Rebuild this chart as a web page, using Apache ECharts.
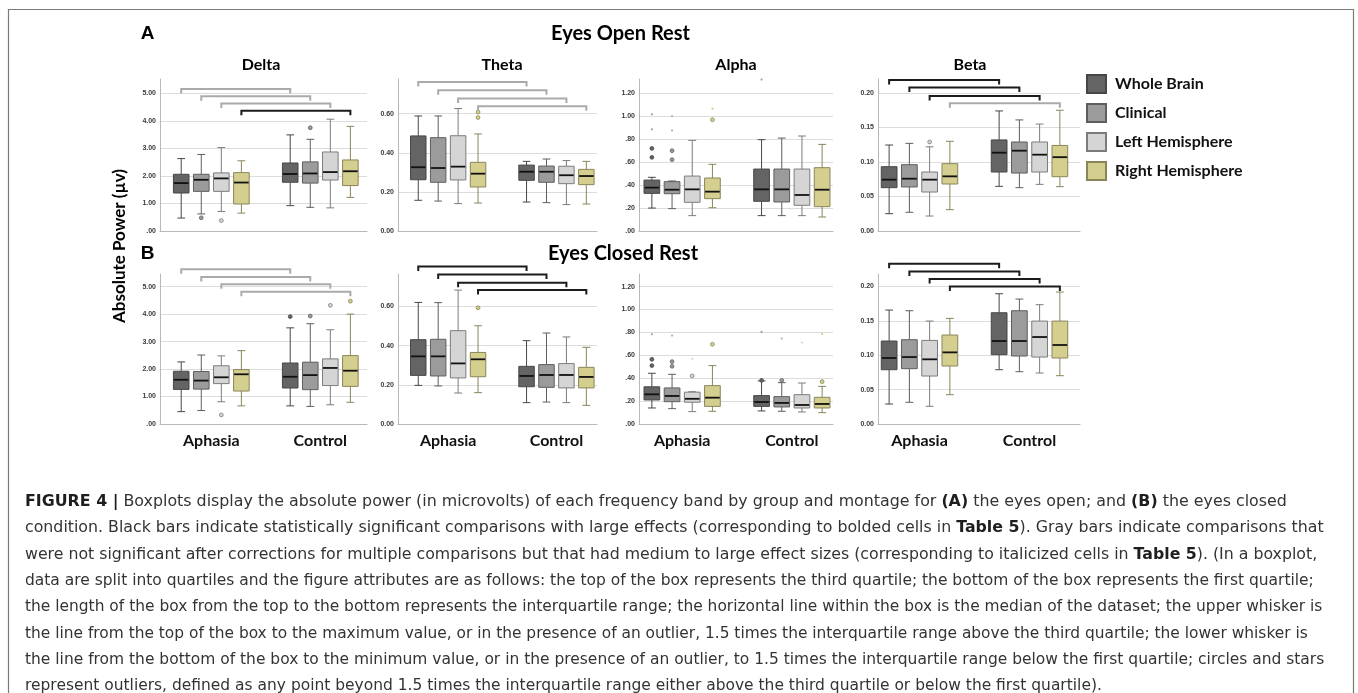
<!DOCTYPE html>
<html><head><meta charset="utf-8">
<script src="https://cdn.jsdelivr.net/npm/echarts@6/dist/echarts.min.js"></script>
<style>html,body{margin:0;padding:0;background:#fff}#c{width:1358px;height:693px}</style>
</head><body><div id="c"></div><script>
// ---------- data ----------
const groups = ['Aphasia', 'Control'];
const montages = ['Whole Brain', 'Clinical', 'Left Hemisphere', 'Right Hemisphere'];
const bands = ['Delta', 'Theta', 'Alpha', 'Beta'];
const conditions = ['Eyes Open Rest', 'Eyes Closed Rest'];

// [min, Q1, median, Q3, max] for each montage
const openDeltaAphasia = [[0.47,1.38,1.74,2.06,2.63],[0.62,1.44,1.86,2.06,2.78],[0.71,1.44,1.91,2.11,3.03],[0.65,0.98,1.76,2.12,2.55]];
const openDeltaControl = [[0.92,1.77,2.07,2.47,3.49],[0.86,1.74,2.09,2.51,3.33],[0.84,1.85,2.14,2.87,4.06],[1.22,1.65,2.17,2.58,3.80]];
const openThetaAphasia = [[0.157,0.262,0.326,0.486,0.588],[0.153,0.249,0.322,0.477,0.588],[0.140,0.261,0.329,0.487,0.626],[0.143,0.225,0.293,0.351,0.496]];
const openThetaControl = [[0.148,0.259,0.303,0.337,0.356],[0.145,0.249,0.303,0.332,0.368],[0.135,0.242,0.285,0.331,0.360],[0.138,0.237,0.281,0.315,0.356]];
const openAlphaAphasia = [[0.200,0.328,0.378,0.444,0.468],[0.195,0.325,0.360,0.430,0.436],[0.134,0.250,0.363,0.479,0.790],[0.203,0.282,0.343,0.462,0.581]];
const openAlphaControl = [[0.134,0.259,0.363,0.540,0.796],[0.134,0.253,0.363,0.540,0.810],[0.134,0.224,0.314,0.540,0.828],[0.122,0.212,0.360,0.552,0.755]];
const openBetaAphasia = [[0.0251,0.0628,0.0744,0.0932,0.1246],[0.0271,0.0638,0.0758,0.0961,0.127],[0.0217,0.0565,0.0744,0.0855,0.122],[0.0309,0.0681,0.0792,0.0976,0.130]];
const openBetaControl = [[0.0647,0.0855,0.1135,0.132,0.174],[0.0628,0.084,0.1164,0.129,0.161],[0.0676,0.0855,0.1106,0.129,0.155],[0.0643,0.0787,0.107,0.124,0.175]];
const closedDeltaAphasia = [[0.45,1.26,1.61,1.92,2.26],[0.49,1.27,1.58,1.91,2.51],[0.81,1.47,1.70,2.12,2.48],[0.66,1.20,1.81,1.98,2.67]];
const closedDeltaControl = [[0.66,1.31,1.72,2.22,3.50],[0.64,1.25,1.78,2.25,3.65],[0.70,1.40,2.04,2.37,3.43],[0.79,1.37,1.94,2.49,4.00]];
const closedThetaAphasia = [[0.197,0.248,0.345,0.430,0.620],[0.194,0.245,0.345,0.432,0.619],[0.158,0.235,0.309,0.476,0.683],[0.160,0.241,0.330,0.365,0.501]];
const closedThetaControl = [[0.109,0.190,0.245,0.294,0.425],[0.112,0.187,0.250,0.303,0.464],[0.109,0.184,0.250,0.308,0.444],[0.095,0.184,0.240,0.289,0.391]];
const closedAlphaAphasia = [[0.140,0.210,0.259,0.325,0.443],[0.134,0.195,0.245,0.315,0.434],[0.108,0.190,0.220,0.278,0.282],[0.111,0.154,0.230,0.335,0.510]];
const closedAlphaControl = [[0.114,0.154,0.192,0.248,0.376],[0.111,0.149,0.184,0.239,0.361],[0.105,0.140,0.166,0.256,0.358],[0.099,0.140,0.175,0.233,0.329]];
const closedBetaAphasia = [[0.029,0.0789,0.0959,0.1206,0.1656],[0.0315,0.0804,0.0973,0.1225,0.1646],[0.0257,0.0697,0.094,0.1215,0.1496],[0.0426,0.0843,0.1041,0.1293,0.1535]];
const closedBetaControl = [[0.0789,0.1007,0.1206,0.1617,0.1893],[0.076,0.0988,0.1206,0.1646,0.1816],[0.0741,0.0973,0.1264,0.1496,0.1734],[0.0702,0.0959,0.1148,0.1496,0.1918]];

// outliers: [group, montage, value, kind(0 circle, 1 star)]
const openDeltaOutliers = [[0,1,0.48,0],[0,2,0.38,0],[1,1,3.75,0]];
const openThetaOutliers = [[0,3,0.608,0],[0,3,0.580,0]];
const openAlphaOutliers = [[0,0,0.642,0],[0,0,0.720,0],[0,0,0.886,1],[0,0,1.017,1],[0,1,0.622,0],[0,1,0.700,0],[0,1,0.877,1],[0,1,1.002,1],[0,3,0.970,0],[0,3,1.066,1],[1,0,1.32,1]];
const openBetaOutliers = [[0,2,0.129,0]];
const closedDeltaOutliers = [[0,2,0.33,0],[1,0,3.91,0],[1,1,3.93,0],[1,2,4.32,0],[1,3,4.47,0]];
const closedThetaOutliers = [[0,3,0.593,0]];
const closedAlphaOutliers = [[0,0,0.565,0],[0,0,0.510,0],[0,0,0.784,1],[0,1,0.545,0],[0,1,0.504,0],[0,1,0.772,1],[0,2,0.420,0],[0,2,0.570,1],[0,3,0.696,0],[1,0,0.381,0],[1,0,0.804,1],[1,1,0.381,0],[1,1,0.746,1],[1,2,0.711,1],[1,3,0.370,0],[1,3,0.787,1]];
const closedBetaOutliers = [];

// comparison bars (Aphasia vs Control, per montage): level on the value axis, significant (1 = black) or not (0 = gray)
const openDeltaBarLevels = [5.16,4.89,4.63,4.37];
const openDeltaBarSig = [0,0,0,1];
const openThetaBarLevels = [0.762,0.720,0.677,0.638];
const openThetaBarSig = [0,0,0,0];
const openBetaBarLevels = [0.2188,0.2078,0.1957,0.1851];
const openBetaBarSig = [1,1,1,0];
const closedDeltaBarLevels = [5.63,5.35,5.09,4.81];
const closedDeltaBarSig = [0,0,0,0];
const closedThetaBarLevels = [0.803,0.762,0.721,0.684];
const closedThetaBarSig = [1,1,1,1];
const closedBetaBarLevels = [0.233,0.2218,0.2108,0.200];
const closedBetaBarSig = [1,1,1,1];

// tick labels
const deltaTicks = ['.00','1.00','2.00','3.00','4.00','5.00'];
const thetaTicks = ['0.00','0.20','0.40','0.60'];
const alphaTicks = ['.00','.20','.40','.60','.80','1.00','1.20'];
const betaTicks = ['0.00','0.05','0.10','0.15','0.20'];

// ---------- layout / style ----------
const fills = ['#646464', '#9b9b9b', '#d5d5d5', '#d4ce8f'];
const strokes = ['#474747', '#5e5e5e', '#7c7c7c', '#8a8559'];
const starCol = ['#8a8a8a', '#a0a0a0', '#c8c8c8', '#c9c27a'];
const SPACING = 0.184, BOXW = 0.143;
const bandFrameX = [[160, 207], [398, 199], [639, 194], [878, 202]];
const bandDataX = [[156.8, 218], [394, 216.6], [627.3, 219.4], [864.5, 220]];
const rowY = [[79, 152], [274, 150]];
const bandMax = [[5.52, 5.46], [0.777, 0.765], [1.325, 1.31], [0.2203, 0.218]];
const bandInterval = [1, 0.2, 0.2, 0.05];
const bandTicks = [deltaTicks, thetaTicks, alphaTicks, betaTicks];

const panels = [
  [openDeltaAphasia, openDeltaControl, openDeltaOutliers, openDeltaBarLevels, openDeltaBarSig],
  [openThetaAphasia, openThetaControl, openThetaOutliers, openThetaBarLevels, openThetaBarSig],
  [openAlphaAphasia, openAlphaControl, openAlphaOutliers, [], []],
  [openBetaAphasia, openBetaControl, openBetaOutliers, openBetaBarLevels, openBetaBarSig],
  [closedDeltaAphasia, closedDeltaControl, closedDeltaOutliers, closedDeltaBarLevels, closedDeltaBarSig],
  [closedThetaAphasia, closedThetaControl, closedThetaOutliers, closedThetaBarLevels, closedThetaBarSig],
  [closedAlphaAphasia, closedAlphaControl, closedAlphaOutliers, [], []],
  [closedBetaAphasia, closedBetaControl, closedBetaOutliers, closedBetaBarLevels, closedBetaBarSig]
];

function boxRender(m) {
  return function (params, api) {
    const gi = api.value(0);
    const band = api.size([1, 0])[0];
    const cx = api.coord([gi, 0])[0] + (m - 1.5) * band * SPACING;
    const w = band * BOXW, cap = w * 0.5;
    const y = [1, 2, 3, 4, 5].map(k => api.coord([gi, api.value(k)])[1]);
    const st = { stroke: strokes[m], lineWidth: 1 };
    return { type: 'group', children: [
      { type: 'line', shape: { x1: cx, y1: y[4], x2: cx, y2: y[3] }, style: st },
      { type: 'line', shape: { x1: cx, y1: y[1], x2: cx, y2: y[0] }, style: st },
      { type: 'line', shape: { x1: cx - cap / 2, y1: y[4], x2: cx + cap / 2, y2: y[4] }, style: st },
      { type: 'line', shape: { x1: cx - cap / 2, y1: y[0], x2: cx + cap / 2, y2: y[0] }, style: st },
      { type: 'rect', shape: { x: cx - w / 2, y: y[3], width: w, height: y[1] - y[3] }, style: { fill: fills[m], stroke: strokes[m], lineWidth: 1 } },
      { type: 'line', shape: { x1: cx - w / 2 + 0.5, y1: y[2], x2: cx + w / 2 - 0.5, y2: y[2] }, style: { stroke: '#111', lineWidth: 1.8 } }
    ] };
  };
}
function outlierRender(params, api) {
  const gi = api.value(0), m = api.value(1), kind = api.value(3);
  const band = api.size([1, 0])[0];
  const p = api.coord([gi, api.value(2)]);
  const cx = p[0] + (m - 1.5) * band * SPACING;
  if (kind === 0) {
    return { type: 'circle', shape: { cx: cx, cy: p[1], r: 1.9 }, style: { fill: fills[m], stroke: strokes[m], lineWidth: 0.8 } };
  }
  return { type: 'circle', shape: { cx: cx, cy: p[1], r: 1.1 }, style: { fill: starCol[m], opacity: 0.8 } };
}
function barRender(params, api) {
  const level = api.value(1), m = api.value(2), sig = api.value(3);
  const band = api.size([1, 0])[0];
  const off = (m - 1.5) * band * SPACING;
  const p0 = api.coord([0, level]), p1 = api.coord([1, level]);
  const x0 = p0[0] + off, x1 = p1[0] + off, y = p0[1];
  return { type: 'polyline', shape: { points: [[x0, y + 4.5], [x0, y], [x1, y], [x1, y + 4.5]] },
    style: { fill: 'none', stroke: sig ? '#1b1b1b' : '#aaaaaa', lineWidth: 2 } };
}

const grid = [], xAxis = [], yAxis = [], series = [];
panels.forEach((pd, p) => {
  const row = Math.floor(p / 4), b = p % 4;
  const fg = grid.length;
  grid.push({ left: bandFrameX[b][0], width: bandFrameX[b][1], top: rowY[row][0], height: rowY[row][1] });
  grid.push({ left: bandDataX[b][0], width: bandDataX[b][1], top: rowY[row][0], height: rowY[row][1] });
  const M = bandMax[b][row], I = bandInterval[b], ticks = bandTicks[b];
  xAxis.push({ gridIndex: fg, type: 'category', data: groups, axisLine: { show: true, lineStyle: { color: '#b8b8b8' } }, axisTick: { show: false }, axisLabel: { show: false }, splitLine: { show: false } });
  yAxis.push({ gridIndex: fg, type: 'value', min: 0, max: M, interval: I,
    axisLine: { show: true, lineStyle: { color: '#b8b8b8' } }, axisTick: { show: false },
    splitLine: { show: true, showMaxLine: false, lineStyle: { color: '#dcdcdc', width: 1 } },
    axisLabel: { fontSize: 7, fontWeight: 'bold', color: '#3a3a3a', margin: 4, showMaxLabel: false, fontFamily: 'Liberation Sans',
      formatter: v => { const k = Math.round(v / I); return Math.abs(k * I - v) < 1e-9 && ticks[k] ? ticks[k] : ''; } } });
  xAxis.push({ gridIndex: fg + 1, type: 'category', data: groups, axisLine: { show: false }, axisTick: { show: false }, splitLine: { show: false },
    axisLabel: { show: row === 1, fontSize: 16, fontWeight: 'bold', fontFamily: 'Lato', color: '#111', margin: 9 } });
  yAxis.push({ gridIndex: fg + 1, type: 'value', min: 0, max: M, show: false });
  const axIdx = xAxis.length - 1;
  montages.forEach((name, m) => {
    series.push({ type: 'custom', name: name, xAxisIndex: axIdx, yAxisIndex: axIdx, z: 3,
      itemStyle: { color: fills[m], borderColor: strokes[m], borderWidth: 1 },
      encode: { x: 0, y: [1, 2, 3, 4, 5] },
      data: [[0].concat(pd[0][m]), [1].concat(pd[1][m])],
      renderItem: boxRender(m) });
  });
  if (pd[2].length) {
    series.push({ type: 'custom', name: 'outliers', xAxisIndex: axIdx, yAxisIndex: axIdx, z: 4,
      encode: { x: 0, y: 2 }, data: pd[2], renderItem: outlierRender });
  }
  if (pd[3].length) {
    series.push({ type: 'custom', name: 'comparisons', xAxisIndex: axIdx, yAxisIndex: axIdx, z: 4, clip: false,
      encode: { x: 0, y: 1 }, data: pd[3].map((lv, m) => [0, lv, m, pd[4][m]]), renderItem: barRender });
  }
});

// ---------- caption ----------
const captionLines = [
  '{b|FIGURE 4 |} Boxplots display the absolute power (in microvolts) of each frequency band by group and montage for {b|(A)} the eyes open; and {b|(B)} the eyes closed',
  'condition. Black bars indicate statistically significant comparisons with large effects (corresponding to bolded cells in {b|Table 5}). Gray bars indicate comparisons that',
  'were not significant after corrections for multiple comparisons but that had medium to large effect sizes (corresponding to italicized cells in {b|Table 5}). (In a boxplot,',
  'data are split into quartiles and the figure attributes are as follows: the top of the box represents the third quartile; the bottom of the box represents the first quartile;',
  'the length of the box from the top to the bottom represents the interquartile range; the horizontal line within the box is the median of the dataset; the upper whisker is',
  'the line from the top of the box to the maximum value, or in the presence of an outlier, 1.5 times the interquartile range above the third quartile; the lower whisker is',
  'the line from the bottom of the box to the minimum value, or in the presence of an outlier, to 1.5 times the interquartile range below the first quartile; circles and stars',
  'represent outliers, defined as any point beyond 1.5 times the interquartile range either above the third quartile or below the first quartile).'
];
const captionLineEnds = [1288, 1325, 1319, 1315, 1323, 1309, 1325, 1103];
const capFont = 'DejaVu Sans';
const mctx = document.createElement('canvas').getContext('2d');
function textWidth(line, size) {
  let w = 0;
  line.split(/(\{b\|[^}]*\})/).forEach(seg => {
    if (!seg) return;
    const mm = seg.match(/^\{b\|([^}]*)\}$/);
    mctx.font = (mm ? 'bold ' : '') + size + 'px "' + capFont + '"';
    w += mctx.measureText(mm ? mm[1] : seg).width;
  });
  return w;
}

const graphic = [
  { type: 'rect', shape: { x: 8.5, y: 9.5, width: 1345, height: 720 }, style: { fill: 'none', stroke: '#7a7a7a', lineWidth: 1.2 }, silent: true },
  { type: 'text', x: 147.5, y: 33.5, style: { text: 'A', font: 'bold 19px "Liberation Sans"', fill: '#000', align: 'center', verticalAlign: 'middle' } },
  { type: 'text', x: 147.5, y: 254, style: { text: 'B', font: 'bold 19px "Liberation Sans"', fill: '#000', align: 'center', verticalAlign: 'middle' } },
  { type: 'text', x: 620.5, y: 34, style: { text: conditions[0], font: 'bold 20px Lato', fill: '#000', align: 'center', verticalAlign: 'middle' } },
  { type: 'text', x: 623, y: 254, style: { text: conditions[1], font: 'bold 20px Lato', fill: '#000', align: 'center', verticalAlign: 'middle' } },
  { type: 'text', x: 119.5, y: 246, rotation: Math.PI / 2, style: { text: 'Absolute Power (µv)', font: 'bold 17px Lato', fill: '#000', align: 'center', verticalAlign: 'middle' } }
];
const titleX = [261, 502, 736, 970];
bands.forEach((bn, i) => graphic.push({ type: 'text', x: titleX[i], y: 64.5, style: { text: bn, font: 'bold 16px Lato', fill: '#000', align: 'center', verticalAlign: 'middle' } }));
captionLines.forEach((ln, i) => {
  const size = Math.max(12, Math.min(19, 15 * (captionLineEnds[i] - 25) / textWidth(ln, 15)));
  graphic.push({ type: 'text', x: 25, y: 502 + i * 26.3,
    style: { text: ln, rich: { b: { fontWeight: 'bold', fontSize: size, fontFamily: capFont, fill: '#1e1e1e' } },
      fontSize: size, fontFamily: capFont, fill: '#333', align: 'left', verticalAlign: 'middle' } });
});

const chart = echarts.init(document.getElementById('c'));
chart.setOption({
  animation: false,
  backgroundColor: '#fff',
  legend: { data: montages, orient: 'vertical', left: 1086, top: 74, padding: 0, itemWidth: 19, itemHeight: 18, itemGap: 9, icon: 'rect', selectedMode: false,
    textStyle: { fontFamily: 'Lato', fontWeight: 'bold', fontSize: 16, lineHeight: 18, color: '#111', padding: [0, 0, 0, 4] } },
  grid: grid, xAxis: xAxis, yAxis: yAxis, series: series, graphic: graphic
});
</script></body></html>
